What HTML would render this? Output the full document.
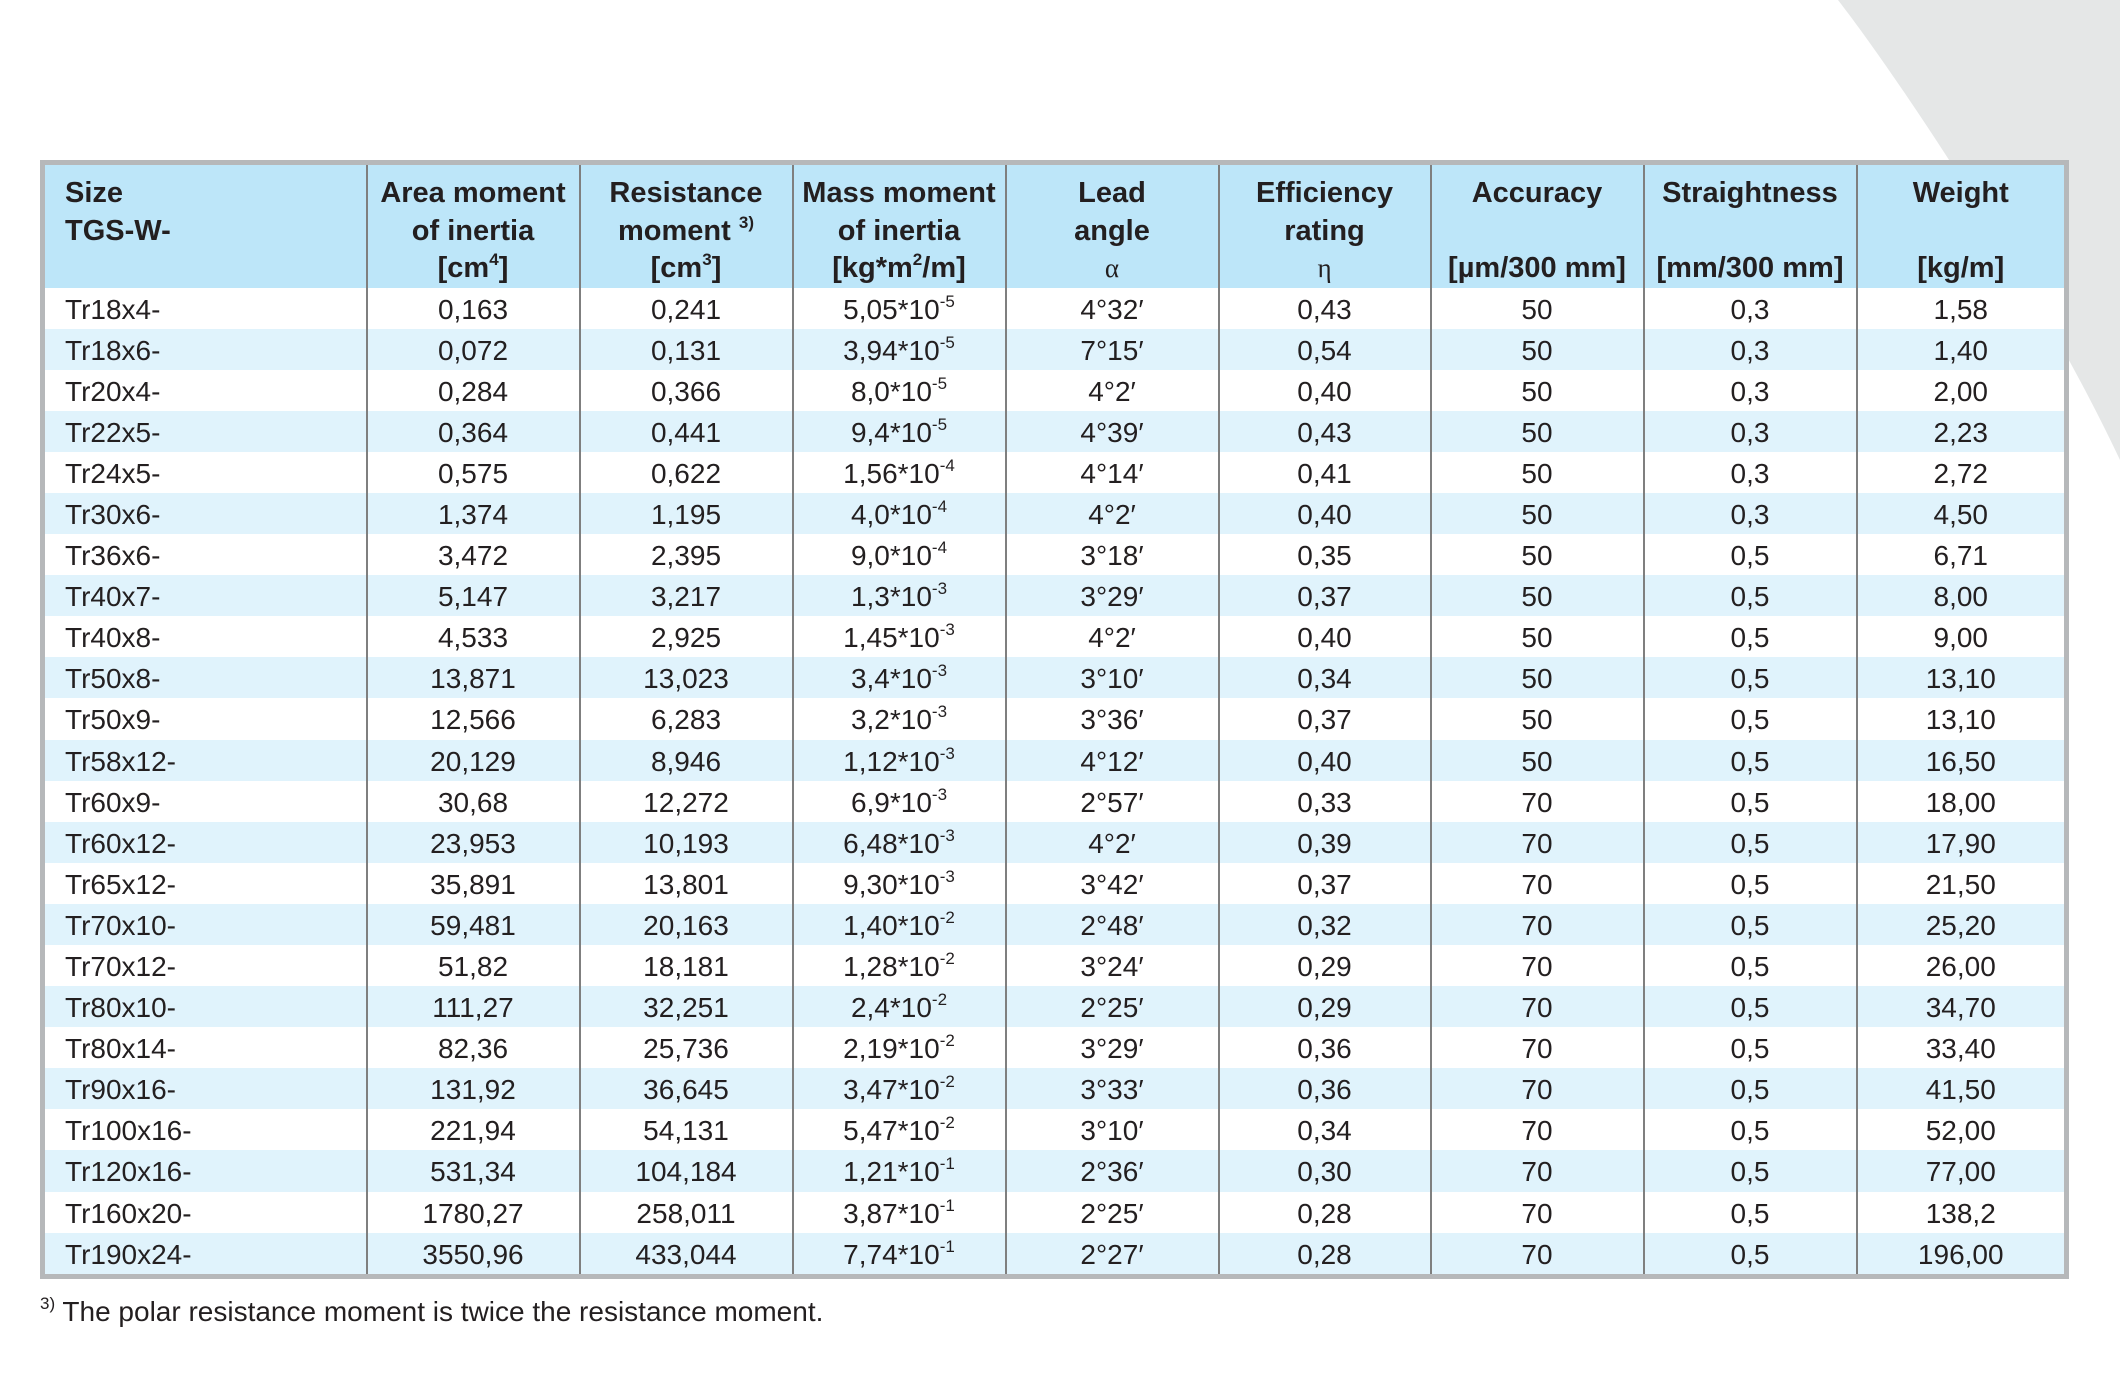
<!DOCTYPE html>
<html><head><meta charset="utf-8"><style>
html,body{margin:0;padding:0;background:#fff;}
body{width:2120px;height:1391px;position:relative;overflow:hidden;font-family:"Liberation Sans",sans-serif;color:#231f20;}
svg.bg{position:absolute;left:0;top:0;}
table{position:absolute;left:40px;top:160px;border-collapse:collapse;table-layout:fixed;border:5px solid #b6b8ba;background:#fff;}
td,th{padding:0;border-left:2.5px solid #7f7f7f;text-align:center;font-size:28px;white-space:nowrap;overflow:visible;}
td:first-child,th:first-child{border-left:none;text-align:left;padding-left:20px;}
thead th{background:#bde6f9;height:122px;font-weight:bold;font-size:29px;line-height:37.5px;vertical-align:top;padding-top:10px;box-sizing:border-box;}
tbody td{height:38.1px;line-height:38.1px;padding-top:3px;box-sizing:content-box;}
tbody tr:nth-child(even) td{background:#e0f3fc;}
sup{font-size:17px;line-height:0;vertical-align:12px;}
.g{font-family:"Liberation Serif",serif;font-weight:normal;font-size:27px;}
.foot{position:absolute;left:40px;top:1296px;font-size:28px;}
.foot sup{font-size:17px;}
</style></head><body>
<svg class="bg" width="2120" height="1391"><path d="M1838,0 C1900,80 2040,290 2120,460 L2120,0 Z" fill="#e5e7e7"/></svg>
<table>
<colgroup><col style="width:324px"><col style="width:213px"><col style="width:213px"><col style="width:213px"><col style="width:213px"><col style="width:212px"><col style="width:213px"><col style="width:213px"><col style="width:210px"></colgroup>
<thead><tr>
<th>Size<br>TGS-W-</th>
<th>Area moment<br>of inertia<br>[cm<sup>4</sup>]</th>
<th>Resistance<br>moment <sup>3)</sup><br>[cm<sup>3</sup>]</th>
<th>Mass moment<br>of inertia<br>[kg*m<sup>2</sup>/m]</th>
<th>Lead<br>angle<br><span class="g">α</span></th>
<th>Efficiency<br>rating<br><span class="g">η</span></th>
<th>Accuracy<br>&nbsp;<br>[µm/300 mm]</th>
<th>Straightness<br>&nbsp;<br>[mm/300 mm]</th>
<th>Weight<br>&nbsp;<br>[kg/m]</th>
</tr></thead>
<tbody>
<tr><td>Tr18x4-</td><td>0,163</td><td>0,241</td><td>5,05*10<sup>-5</sup></td><td>4°32′</td><td>0,43</td><td>50</td><td>0,3</td><td>1,58</td></tr>
<tr><td>Tr18x6-</td><td>0,072</td><td>0,131</td><td>3,94*10<sup>-5</sup></td><td>7°15′</td><td>0,54</td><td>50</td><td>0,3</td><td>1,40</td></tr>
<tr><td>Tr20x4-</td><td>0,284</td><td>0,366</td><td>8,0*10<sup>-5</sup></td><td>4°2′</td><td>0,40</td><td>50</td><td>0,3</td><td>2,00</td></tr>
<tr><td>Tr22x5-</td><td>0,364</td><td>0,441</td><td>9,4*10<sup>-5</sup></td><td>4°39′</td><td>0,43</td><td>50</td><td>0,3</td><td>2,23</td></tr>
<tr><td>Tr24x5-</td><td>0,575</td><td>0,622</td><td>1,56*10<sup>-4</sup></td><td>4°14′</td><td>0,41</td><td>50</td><td>0,3</td><td>2,72</td></tr>
<tr><td>Tr30x6-</td><td>1,374</td><td>1,195</td><td>4,0*10<sup>-4</sup></td><td>4°2′</td><td>0,40</td><td>50</td><td>0,3</td><td>4,50</td></tr>
<tr><td>Tr36x6-</td><td>3,472</td><td>2,395</td><td>9,0*10<sup>-4</sup></td><td>3°18′</td><td>0,35</td><td>50</td><td>0,5</td><td>6,71</td></tr>
<tr><td>Tr40x7-</td><td>5,147</td><td>3,217</td><td>1,3*10<sup>-3</sup></td><td>3°29′</td><td>0,37</td><td>50</td><td>0,5</td><td>8,00</td></tr>
<tr><td>Tr40x8-</td><td>4,533</td><td>2,925</td><td>1,45*10<sup>-3</sup></td><td>4°2′</td><td>0,40</td><td>50</td><td>0,5</td><td>9,00</td></tr>
<tr><td>Tr50x8-</td><td>13,871</td><td>13,023</td><td>3,4*10<sup>-3</sup></td><td>3°10′</td><td>0,34</td><td>50</td><td>0,5</td><td>13,10</td></tr>
<tr><td>Tr50x9-</td><td>12,566</td><td>6,283</td><td>3,2*10<sup>-3</sup></td><td>3°36′</td><td>0,37</td><td>50</td><td>0,5</td><td>13,10</td></tr>
<tr><td>Tr58x12-</td><td>20,129</td><td>8,946</td><td>1,12*10<sup>-3</sup></td><td>4°12′</td><td>0,40</td><td>50</td><td>0,5</td><td>16,50</td></tr>
<tr><td>Tr60x9-</td><td>30,68</td><td>12,272</td><td>6,9*10<sup>-3</sup></td><td>2°57′</td><td>0,33</td><td>70</td><td>0,5</td><td>18,00</td></tr>
<tr><td>Tr60x12-</td><td>23,953</td><td>10,193</td><td>6,48*10<sup>-3</sup></td><td>4°2′</td><td>0,39</td><td>70</td><td>0,5</td><td>17,90</td></tr>
<tr><td>Tr65x12-</td><td>35,891</td><td>13,801</td><td>9,30*10<sup>-3</sup></td><td>3°42′</td><td>0,37</td><td>70</td><td>0,5</td><td>21,50</td></tr>
<tr><td>Tr70x10-</td><td>59,481</td><td>20,163</td><td>1,40*10<sup>-2</sup></td><td>2°48′</td><td>0,32</td><td>70</td><td>0,5</td><td>25,20</td></tr>
<tr><td>Tr70x12-</td><td>51,82</td><td>18,181</td><td>1,28*10<sup>-2</sup></td><td>3°24′</td><td>0,29</td><td>70</td><td>0,5</td><td>26,00</td></tr>
<tr><td>Tr80x10-</td><td>111,27</td><td>32,251</td><td>2,4*10<sup>-2</sup></td><td>2°25′</td><td>0,29</td><td>70</td><td>0,5</td><td>34,70</td></tr>
<tr><td>Tr80x14-</td><td>82,36</td><td>25,736</td><td>2,19*10<sup>-2</sup></td><td>3°29′</td><td>0,36</td><td>70</td><td>0,5</td><td>33,40</td></tr>
<tr><td>Tr90x16-</td><td>131,92</td><td>36,645</td><td>3,47*10<sup>-2</sup></td><td>3°33′</td><td>0,36</td><td>70</td><td>0,5</td><td>41,50</td></tr>
<tr><td>Tr100x16-</td><td>221,94</td><td>54,131</td><td>5,47*10<sup>-2</sup></td><td>3°10′</td><td>0,34</td><td>70</td><td>0,5</td><td>52,00</td></tr>
<tr><td>Tr120x16-</td><td>531,34</td><td>104,184</td><td>1,21*10<sup>-1</sup></td><td>2°36′</td><td>0,30</td><td>70</td><td>0,5</td><td>77,00</td></tr>
<tr><td>Tr160x20-</td><td>1780,27</td><td>258,011</td><td>3,87*10<sup>-1</sup></td><td>2°25′</td><td>0,28</td><td>70</td><td>0,5</td><td>138,2</td></tr>
<tr><td>Tr190x24-</td><td>3550,96</td><td>433,044</td><td>7,74*10<sup>-1</sup></td><td>2°27′</td><td>0,28</td><td>70</td><td>0,5</td><td>196,00</td></tr>
</tbody></table>
<div class="foot"><sup>3)</sup> The polar resistance moment is twice the resistance moment.</div>
</body></html>
